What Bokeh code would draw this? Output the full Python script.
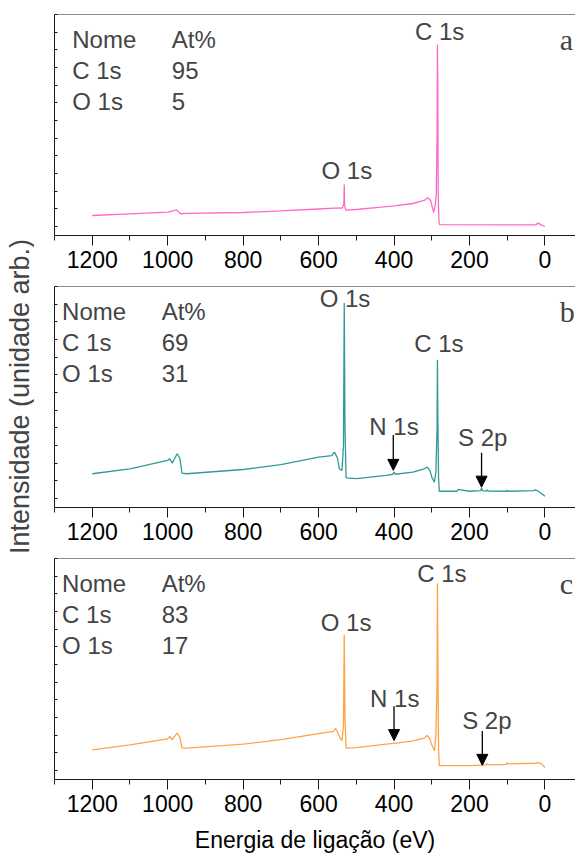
from bokeh.plotting import figure
from bokeh.layouts import column, row
from bokeh.models import (Range1d, FixedTicker, Span, Label, Arrow, NormalHead,
                          CustomLabelingPolicy)
from bokeh.embed import file_html
from bokeh.resources import INLINE

# XPS survey spectra: binding energy (eV) and intensity (arb. units)
energy_a = [1200, 1100, 1000, 985, 977, 966, 950, 800, 700, 600, 545, 537, 533,
            532, 531, 528, 500, 434, 400, 350, 320, 311, 303, 295, 291, 288,
            286, 285, 284, 283, 281, 279, 100, 25, 18, 10, 0]
intensity_a = [0.63, 0.72, 0.82, 0.89, 0.96, 0.73, 0.75, 0.80, 0.89, 1.00, 1.06, 1.05, 1.30,
               2.39, 1.20, 0.94, 0.97, 1.10, 1.17, 1.31, 1.48, 1.63, 1.48, 0.79, 1.20, 1.80,
               5.00, 10.30, 8.00, 2.00, 0.30, 0.12, 0.10, 0.10, 0.20, 0.10, 0.01]

energy_b = [1200, 1100, 1000, 995, 988, 975, 968, 962, 950, 800, 700, 600, 565, 558,
            550, 545, 538, 534, 532, 530, 527, 500, 420, 403, 400, 397, 350, 320,
            312, 305, 300, 293, 289, 286, 285, 284, 282, 280, 240, 233, 230, 200,
            170, 168, 166, 155, 153, 150, 102, 100, 98, 30, 25, 20, 10, 0]
intensity_b = [1.41, 1.69, 2.16, 2.26, 2.01, 2.54, 2.30, 1.44, 1.41, 1.65, 1.93, 2.35, 2.44, 2.63,
               2.30, 1.69, 1.60, 3.00, 11.06, 4.00, 1.18, 1.13, 1.32, 1.38, 1.50, 1.38, 1.50, 1.69,
               1.78, 1.60, 1.22, 0.93, 1.50, 4.00, 7.86, 5.00, 1.20, 0.42, 0.42, 0.42, 0.52, 0.42,
               0.45, 0.62, 0.45, 0.43, 0.50, 0.43, 0.42, 0.48, 0.42, 0.45, 0.50, 0.45, 0.31, 0.14]

energy_c = [1200, 1100, 1000, 995, 988, 975, 968, 962, 950, 800, 700, 600, 560, 555,
            548, 545, 538, 534, 532, 530, 527, 500, 420, 403, 400, 397, 350, 320,
            312, 305, 300, 293, 289, 286, 285, 284, 282, 280, 200, 155, 153, 150,
            102, 100, 98, 25, 20, 10, 0]
intensity_c = [1.18, 1.46, 1.80, 1.93, 1.75, 2.12, 1.90, 1.27, 1.27, 1.50, 1.75, 2.09, 2.22, 2.40,
               2.10, 1.93, 1.69, 2.50, 7.69, 3.00, 1.27, 1.30, 1.50, 1.54, 1.60, 1.54, 1.69, 1.84,
               1.99, 1.80, 1.46, 1.12, 2.00, 5.00, 10.60, 7.00, 1.20, 0.28, 0.28, 0.33, 0.40, 0.33,
               0.36, 0.45, 0.38, 0.42, 0.45, 0.40, 0.18]

# atomic composition tables
table_header = ["Nome", "At%"]
elements = ["C 1s", "O 1s"]
at_pct_a = [95, 5]
at_pct_b = [69, 31]
at_pct_c = [83, 17]

x_major = [0, 200, 400, 600, 800, 1000, 1200]
x_minor = [100, 300, 500, 700, 900, 1100, 1300]
y_ticks = list(range(0, 13))

SANS = "Liberation Sans"
SERIF = "Liberation Serif"
INK = "#1a1a1a"


def panel(energy, intensity, color, table_vals, table_x, letter, bottom_border):
    p = figure(frame_width=521, frame_height=221,
               x_range=Range1d(1300, -81), y_range=Range1d(-0.5, 12),
               output_backend="svg", toolbar_location=None,
               min_border_left=20, min_border_right=0, min_border_top=14,
               min_border_bottom=bottom_border)
    p.outline_line_color = None
    p.xgrid.visible = False
    p.ygrid.visible = False
    p.background_fill_color = "white"

    xa = p.xaxis[0]
    xa.ticker = FixedTicker(ticks=x_major, minor_ticks=x_minor)
    xa.axis_line_color = INK
    xa.major_tick_line_color = INK
    xa.minor_tick_line_color = INK
    xa.major_tick_in = 0
    xa.major_tick_out = 10
    xa.minor_tick_in = 0
    xa.minor_tick_out = 5
    xa.major_label_text_font = SANS
    xa.major_label_text_font_size = "23px"
    xa.major_label_text_color = "black"
    xa.major_label_standoff = 5

    # intensity axis: inward ticks only, no numbers
    ya = p.yaxis[0]
    ya.ticker = FixedTicker(ticks=y_ticks, minor_ticks=[])
    ya.axis_line_color = INK
    ya.major_tick_line_color = INK
    ya.major_tick_in = 3
    ya.major_tick_out = 0
    ya.major_label_standoff = 0
    ya.major_label_text_font_size = "2px"
    ya.major_label_policy = CustomLabelingPolicy(code="return new Set()")

    p.add_layout(Span(location=12, dimension="width", line_color=INK, line_width=1))

    p.line(energy, intensity, line_color=color, line_width=1.3)

    # composition table in the upper-left corner
    rows_y = [10.6, 8.85, 7.1]
    col2_x = table_x[1]
    p.add_layout(Label(x=table_x[0], y=rows_y[0], text=table_header[0], text_font=SANS,
                       text_font_size="24px", text_baseline="middle", text_align="left"))
    p.add_layout(Label(x=col2_x, y=rows_y[0], text=table_header[1], text_font=SANS,
                       text_font_size="24px", text_baseline="middle", text_align="left"))
    for name, val, yy in zip(elements, table_vals, rows_y[1:]):
        p.add_layout(Label(x=table_x[0], y=yy, text=name, text_font=SANS,
                           text_font_size="24px", text_baseline="middle", text_align="left"))
        p.add_layout(Label(x=col2_x, y=yy, text=str(val), text_font=SANS,
                           text_font_size="24px", text_baseline="middle", text_align="left"))

    p.add_layout(Label(x=-39, y=10.6, text=letter, text_font=SERIF,
                       text_font_size="30px", text_baseline="middle", text_align="left"))
    return p


def peak_label(p, x, y, text):
    p.add_layout(Label(x=x, y=y, text=text, text_font=SANS, text_font_size="24px",
                       text_baseline="middle", text_align="center"))


def arrow(p, x, y0, y1):
    p.add_layout(Arrow(end=NormalHead(size=11, fill_color="black", line_color="black"),
                       x_start=x, y_start=y0, x_end=x, y_end=y1,
                       line_color="black", line_width=1.3))


pa = panel(energy_a, intensity_a, "#FF6AC8", at_pct_a, (1253, 989), "a", 37)
peak_label(pa, 279, 11.05, "C 1s")
peak_label(pa, 525, 3.2, "O 1s")

pb = panel(energy_b, intensity_b, "#2E9B96", at_pct_b, (1280, 1016), "b", 37)
peak_label(pb, 530, 11.3, "O 1s")
peak_label(pb, 281, 8.8, "C 1s")
peak_label(pb, 400, 4.1, "N 1s")
peak_label(pb, 165, 3.45, "S 2p")
arrow(pb, 402, 3.6, 1.6)
arrow(pb, 168, 2.6, 0.65)

pc = panel(energy_c, intensity_c, "#FFA445", at_pct_c, (1280, 1016), "c", 81)
peak_label(pc, 273, 11.15, "C 1s")
peak_label(pc, 527, 8.4, "O 1s")
peak_label(pc, 398, 4.1, "N 1s")
peak_label(pc, 154, 2.85, "S 2p")
arrow(pc, 400, 3.65, 1.7)
arrow(pc, 166, 2.25, 0.3)
xa_c = pc.xaxis[0]
xa_c.axis_label = "Energia de ligação (eV)"
xa_c.axis_label_text_font = SANS
xa_c.axis_label_text_font_size = "23px"
xa_c.axis_label_text_font_style = "normal"
xa_c.axis_label_text_color = "black"
xa_c.axis_label_standoff = 12

# shared intensity title, drawn in a narrow strip left of the panels
ylab = figure(width=34, height=859, x_range=Range1d(0, 34), y_range=Range1d(0, 859),
              output_backend="svg", toolbar_location=None, min_border=0)
ylab.axis.visible = False
ylab.grid.visible = False
ylab.outline_line_color = None
ylab.add_layout(Label(x=19, y=859 - 396, text="Intensidade (unidade arb.)", text_font=SANS,
                      text_font_size="27px", angle=90, angle_units="deg",
                      text_align="center", text_baseline="middle"))

layout = row(ylab, column(pa, pb, pc, spacing=0), spacing=0)
open("out.html", "w").write(file_html(layout, INLINE))
